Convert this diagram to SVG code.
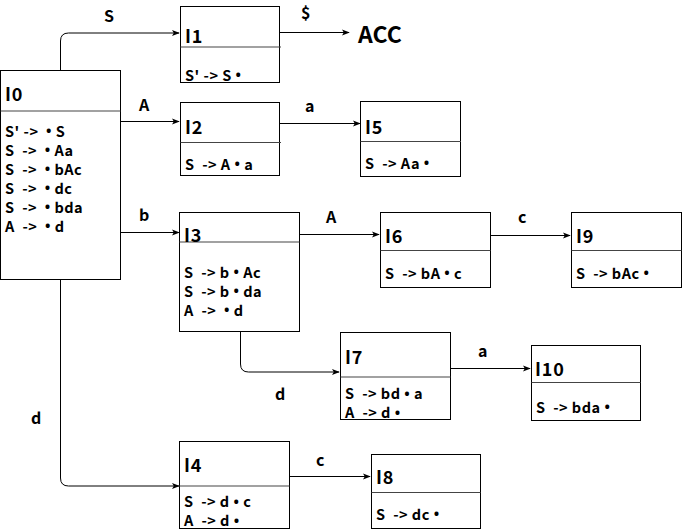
<svg xmlns="http://www.w3.org/2000/svg" width="683" height="531" viewBox="0 0 683 531">
  <style>
    text { font-family: "Noto Sans CJK SC", "Noto Sans", sans-serif; font-weight: bold; fill: #000; dominant-baseline: central; white-space: pre; }
    .dot { font-family: "Noto Sans", "DejaVu Sans", sans-serif; }
    .box { fill: #fff; stroke: #000; stroke-width: 1; }
    .div { stroke: #444; stroke-width: 1.2; }
    .title { font-size: 18px; letter-spacing: 0.8px; }
    .item { font-size: 14.5px; letter-spacing: 0.5px; }
    .lbl { font-size: 16px; }
    .edge { fill: none; stroke: #000; stroke-width: 1; marker-end: url(#arr); }
  </style>
  <defs>
    <marker id="arr" viewBox="0 0 10 10" refX="9" refY="5" markerWidth="8" markerHeight="8" markerUnits="userSpaceOnUse" orient="auto">
      <path d="M0,1 L10,5 L0,9 L2.5,5 Z" fill="#000"/>
    </marker>
  </defs>

  <!-- transitions -->
  <g id="edges">
    <path class="edge" d="M60.5,70 V41 Q60.5,33 68.5,33 H179"/>
    <path class="edge" d="M280,32.5 H349"/>
    <path class="edge" d="M120,121.5 H179"/>
    <path class="edge" d="M280,123.5 H360"/>
    <path class="edge" d="M120,232.5 H179"/>
    <path class="edge" d="M300,234.5 H379"/>
    <path class="edge" d="M491,235.5 H570"/>
    <path class="edge" d="M240.5,332 V364 Q240.5,372 248.5,372 H339"/>
    <path class="edge" d="M450,368.5 H530"/>
    <path class="edge" d="M60.5,280 V478 Q60.5,486 68.5,486 H179"/>
    <path class="edge" d="M289,476.5 H370"/>
    <text class="lbl" x="104" y="15">S</text>
    <text class="lbl" x="301" y="12">$</text>
    <text x="358" y="33" style="font-size:23px">ACC</text>
    <text class="lbl" x="139" y="104">A</text>
    <text class="lbl" x="305" y="105">a</text>
    <text class="lbl" x="139" y="214">b</text>
    <text class="lbl" x="326" y="216">A</text>
    <text class="lbl" x="518" y="216">c</text>
    <text class="lbl" x="275" y="393">d</text>
    <text class="lbl" x="478" y="350">a</text>
    <text class="lbl" x="31" y="417">d</text>
    <text class="lbl" x="316" y="459">c</text>
  </g>

  <g id="I0">
    <rect class="box" x="0.5" y="70.5" width="120" height="209"/>
    <line class="div" x1="0.5" y1="111" x2="120.5" y2="111"/>
    <text class="title" x="5" y="93">I0</text>
    <text class="item" x="5" y="130">S' ->  <tspan class="dot">•</tspan> S</text>
    <text class="item" x="5" y="149">S  ->  <tspan class="dot">•</tspan> Aa</text>
    <text class="item" x="5" y="168">S  ->  <tspan class="dot">•</tspan> bAc</text>
    <text class="item" x="5" y="187">S  ->  <tspan class="dot">•</tspan> dc</text>
    <text class="item" x="5" y="206">S  ->  <tspan class="dot">•</tspan> bda</text>
    <text class="item" x="5" y="225">A  ->  <tspan class="dot">•</tspan> d</text>
  </g>

  <g id="I1">
    <rect class="box" x="180.5" y="6.5" width="99" height="76"/>
    <line class="div" x1="180.5" y1="47" x2="281" y2="47"/>
    <text class="title" x="185" y="35">I1</text>
    <text class="item" x="185" y="74">S' -> S <tspan class="dot">•</tspan></text>
  </g>

  <g id="I2">
    <rect class="box" x="180.5" y="102.5" width="99" height="73"/>
    <line class="div" x1="180.5" y1="142.5" x2="281" y2="142.5"/>
    <text class="title" x="185" y="126">I2</text>
    <text class="item" x="185" y="163">S  -> A <tspan class="dot">•</tspan> a</text>
  </g>

  <g id="I5">
    <rect class="box" x="360.5" y="101.5" width="100" height="75"/>
    <line class="div" x1="360.5" y1="141.5" x2="461" y2="141.5"/>
    <text class="title" x="365" y="126">I5</text>
    <text class="item" x="365" y="162">S  -> Aa <tspan class="dot">•</tspan></text>
  </g>

  <g id="I3">
    <rect class="box" x="179.5" y="212.5" width="120" height="119"/>
    <line class="div" x1="179.5" y1="242" x2="299.5" y2="242"/>
    <text class="title" x="184" y="234">I3</text>
    <text class="item" x="184" y="271">S  -> b <tspan class="dot">•</tspan> Ac</text>
    <text class="item" x="184" y="290">S  -> b <tspan class="dot">•</tspan> da</text>
    <text class="item" x="184" y="309">A  ->  <tspan class="dot">•</tspan> d</text>
  </g>

  <g id="I6">
    <rect class="box" x="380.5" y="212.5" width="110" height="75"/>
    <line class="div" x1="380.5" y1="250.5" x2="490.5" y2="250.5"/>
    <text class="title" x="385" y="235">I6</text>
    <text class="item" x="385" y="272">S  -> bA <tspan class="dot">•</tspan> c</text>
  </g>

  <g id="I9">
    <rect class="box" x="571.5" y="212.5" width="110" height="75"/>
    <line class="div" x1="571.5" y1="250.5" x2="681.5" y2="250.5"/>
    <text class="title" x="576" y="235">I9</text>
    <text class="item" x="576" y="272">S  -> bAc <tspan class="dot">•</tspan></text>
  </g>

  <g id="I7">
    <rect class="box" x="340.5" y="332.5" width="110" height="87"/>
    <line class="div" x1="340.5" y1="377" x2="450.5" y2="377"/>
    <text class="title" x="345" y="356">I7</text>
    <text class="item" x="345" y="392.5">S  -> bd <tspan class="dot">•</tspan> a</text>
    <text class="item" x="345" y="411.5">A  -> d <tspan class="dot">•</tspan></text>
  </g>

  <g id="I10">
    <rect class="box" x="531.5" y="345.5" width="109" height="75"/>
    <line class="div" x1="531.5" y1="382.5" x2="640.5" y2="382.5"/>
    <text class="title" x="535" y="368">I10</text>
    <text class="item" x="536" y="406">S  -> bda <tspan class="dot">•</tspan></text>
  </g>

  <g id="I4">
    <rect class="box" x="179.5" y="441.5" width="110" height="87"/>
    <line class="div" x1="179.5" y1="486" x2="289.5" y2="486"/>
    <text class="title" x="184" y="464">I4</text>
    <text class="item" x="184" y="500.5">S  -> d <tspan class="dot">•</tspan> c</text>
    <text class="item" x="184" y="519.5">A  -> d <tspan class="dot">•</tspan></text>
  </g>

  <g id="I8">
    <rect class="box" x="371.5" y="454.5" width="109" height="74"/>
    <line class="div" x1="371.5" y1="492.5" x2="480.5" y2="492.5"/>
    <text class="title" x="376" y="476">I8</text>
    <text class="item" x="376" y="513">S  -> dc <tspan class="dot">•</tspan></text>
  </g>
</svg>
